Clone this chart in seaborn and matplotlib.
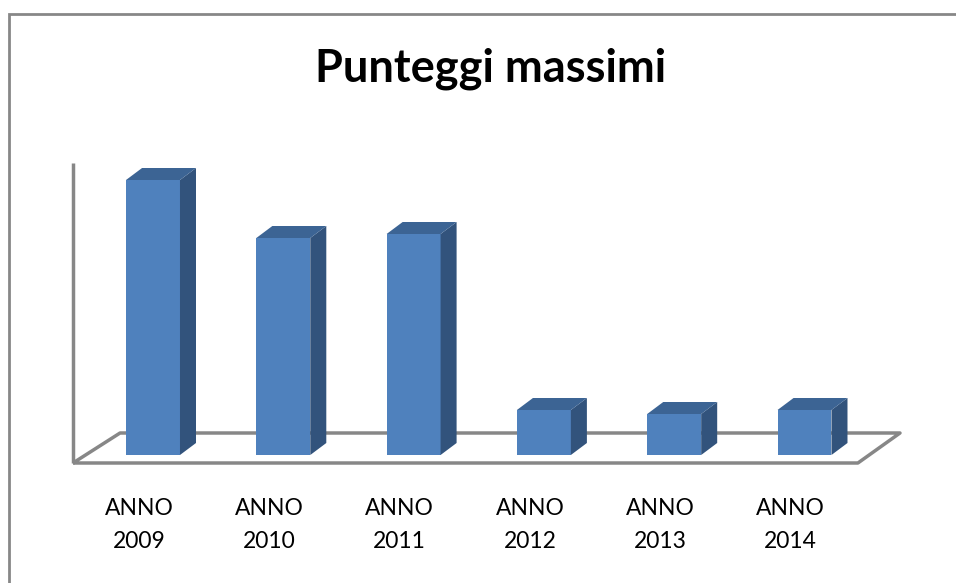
import matplotlib
matplotlib.use("Agg")
import matplotlib.pyplot as plt
from matplotlib.patches import Polygon, Rectangle
import seaborn as sns

# data (no value axis is shown, so the scale is relative)
anni = ["ANNO\n2009", "ANNO\n2010", "ANNO\n2011", "ANNO\n2012", "ANNO\n2013", "ANNO\n2014"]
punteggi = [275, 217, 221, 45, 41, 45]

front_col = "#4F81BD"
side_col = "#32537C"
top_col = "#3C6494"
grid_col = "#878787"

sns.set_style("white")
plt.rcParams["font.family"] = ["Lato", "DejaVu Sans"]

fig = plt.figure(figsize=(9.56, 5.83), dpi=100)
W, H = 956, 583
ax = fig.add_axes([73 / W, (H - 463) / H, 827 / W, 300 / H])

sns.barplot(x=anni, y=punteggi, color=front_col, width=0.414, saturation=1,
            edgecolor="none", ax=ax, zorder=3)

x0, x1 = -0.614, 5.733
ax.set_xlim(x0, x1)
ax.set_ylim(-8, 292)
sns.despine(ax=ax, left=True, bottom=True)
ax.set_yticks([])
ax.set_xlabel("")

# labels sit on the front edge of the floor, a bit left of the bars
ax.set_xticks([i - 0.107 for i in range(len(anni))], anni)
ax.tick_params(axis="x", length=0, pad=25, labelsize=16.5, labelcolor="black")
for lbl in ax.get_xticklabels():
    lbl.set_linespacing(1.7)

# depth of the fake 3D effect
dx, dy = 0.123, 12

for bar in ax.patches:
    bx0 = bar.get_x()
    bx1 = bx0 + bar.get_width()
    h = bar.get_height()
    side = Polygon([(bx1, 0), (bx1 + dx, dy), (bx1 + dx, h + dy), (bx1, h)],
                   closed=True, facecolor=side_col, edgecolor="none", zorder=3)
    top = Polygon([(bx0, h), (bx0 + dx, h + dy), (bx1 + dx, h + dy), (bx1, h)],
                  closed=True, facecolor=top_col, edgecolor="none", zorder=3)
    ax.add_patch(side)
    ax.add_patch(top)

# floor and wall
back_l, back_r = -0.253, 5.733
front_r = 5.41
floor_kw = dict(color=grid_col, lw=2.5, clip_on=False, zorder=1, solid_capstyle="butt")
ax.plot([x0, front_r, back_r, back_l, x0], [-8, -8, 22, 22, -8], **floor_kw)
ax.plot([x0, x0], [-8, 292], **floor_kw)

fig.suptitle("Punteggi massimi", x=491 / W, y=1 - 69 / H, va="center",
             fontsize=32.5, fontweight="bold", color="black")

# chart area border
fig.add_artist(Rectangle((9 / W, -0.1), 1.2, 1.1 - 14 / H, transform=fig.transFigure,
                         fill=False, edgecolor=grid_col, lw=2))

fig.savefig("out.png", dpi=100)
